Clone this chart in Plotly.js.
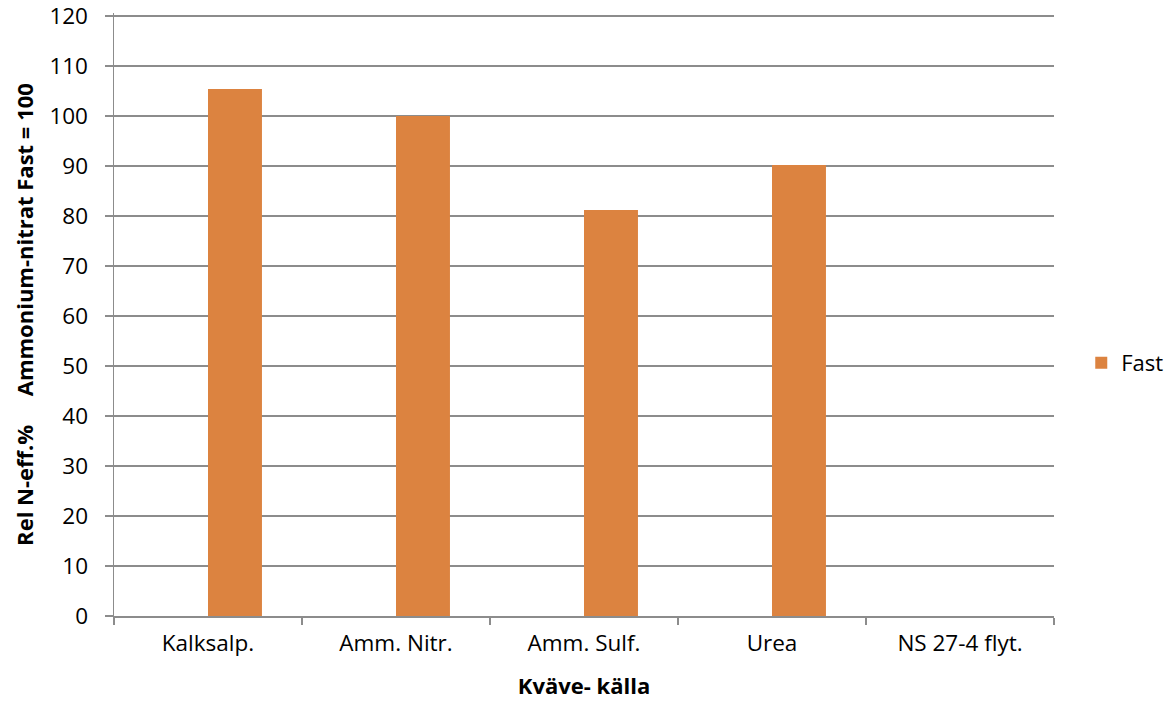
<!DOCTYPE html>
<html>
<head>
<meta charset="utf-8">
<script src="https://cdn.plot.ly/plotly-3.0.1.min.js"></script>
<style>html,body{margin:0;padding:0;background:#fff;}</style>
</head>
<body>
<div id="chart" style="width:1168px;height:703px;"></div>
<script>
const categories = ["Kalksalp.", "Amm. Nitr.", "Amm. Sulf.", "Urea", "NS 27-4 flyt."];
const fastValues = [105.4, 100, 81.2, 90.2, null];
const seriesName = "Fast";
const yTitle = "Rel N-eff.%\u00a0\u00a0\u00a0\u00a0\u00a0Ammonium-nitrat Fast = 100";
const xTitle = "Kväve- källa";
const yTicks = [0, 10, 20, 30, 40, 50, 60, 70, 80, 90, 100, 110, 120];

const FONT = "Open Sans, DejaVu Sans, sans-serif";
const GRID = "#8c8c8c";

const trace = {
  type: "bar",
  x: categories,
  y: fastValues,
  name: seriesName,
  offset: 0,
  width: 0.287,
  marker: {color: "#DC8340"},
  showlegend: true
};

const layout = {
  width: 1168,
  height: 703,
  margin: {l: 114, r: 114, t: 13, b: 87, pad: 0, autoexpand: false},
  paper_bgcolor: "#ffffff",
  plot_bgcolor: "#ffffff",
  font: {family: FONT, size: 22, color: "#000000"},
  showlegend: true,
  legend: {
    x: 1.029, xanchor: "left",
    y: 0.4196, yanchor: "middle",
    font: {family: FONT, size: 22, color: "#000"},
    itemwidth: 30,
    bgcolor: "rgba(0,0,0,0)"
  },
  xaxis: {
    type: "category",
    tickson: "boundaries",
    ticks: "outside",
    ticklen: 7,
    tickcolor: GRID,
    tickwidth: 1.5,
    showline: true,
    linecolor: GRID,
    linewidth: 1.5,
    showgrid: false,
    ticklabelstandoff: 6,
    tickfont: {family: FONT, size: 22.5},
    title: {text: xTitle, font: {family: FONT, size: 22, weight: "bold"}, standoff: 22}
  },
  yaxis: {
    range: [0, 120.6],
    tickmode: "array",
    tickvals: yTicks,
    ticktext: yTicks.map(String),
    ticks: "outside",
    ticklen: 8,
    tickcolor: GRID,
    tickwidth: 1.5,
    showline: true,
    linecolor: GRID,
    linewidth: 1.5,
    showgrid: true,
    gridcolor: GRID,
    gridwidth: 1.5,
    zeroline: false,
    ticklabelstandoff: 12,
    ticklabeloverflow: "allow",
    tickfont: {family: FONT, size: 22.5},
    title: {text: yTitle, font: {family: FONT, size: 22, weight: "bold"}, standoff: 9}
  },
  bargap: 0.4
};

Plotly.newPlot("chart", [trace], layout, {displayModeBar: false, staticPlot: true});
</script>
</body>
</html>
